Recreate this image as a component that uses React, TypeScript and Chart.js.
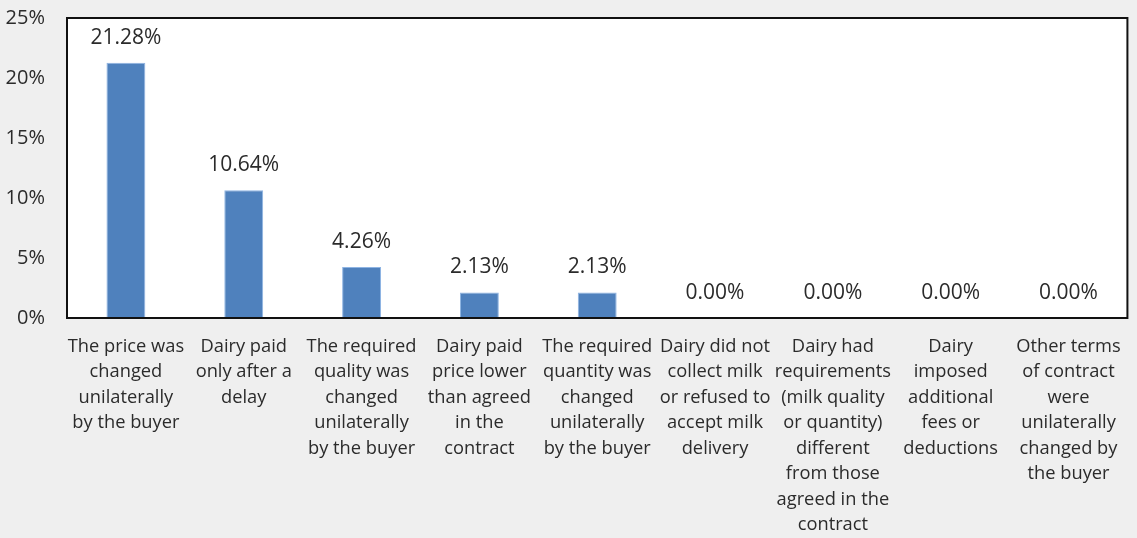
import React, { useEffect, useRef } from "react";
import { Chart, registerables } from "chart.js";

Chart.register(...registerables);

const categories: string[][] = [
  ["The price was", "changed", "unilaterally", "by the buyer"],
  ["Dairy paid", "only after a", "delay"],
  ["The required", "quality was", "changed", "unilaterally", "by the buyer"],
  ["Dairy paid", "price lower", "than agreed", "in the", "contract"],
  ["The required", "quantity was", "changed", "unilaterally", "by the buyer"],
  ["Dairy did not", "collect milk", "or refused to", "accept milk", "delivery"],
  ["Dairy had", "requirements", "(milk quality", "or quantity)", "different", "from those", "agreed in the", "contract"],
  ["Dairy", "imposed", "additional", "fees or", "deductions"],
  ["Other terms", "of contract", "were", "unilaterally", "changed by", "the buyer"],
];

const values: number[] = [21.28, 10.64, 4.26, 2.13, 2.13, 0, 0, 0, 0];

const yTicks: number[] = [0, 5, 10, 15, 20, 25];

const FONT = "'Open Sans', Lato, sans-serif";
const TEXT = "#2b2b2b";

const framePlugin = {
  id: "frame",
  beforeDraw(chart: any) {
    const { ctx, chartArea } = chart;
    ctx.save();
    ctx.fillStyle = "#ffffff";
    ctx.fillRect(chartArea.left, chartArea.top, chartArea.right - chartArea.left, chartArea.bottom - chartArea.top);
    ctx.restore();
  },
  afterDraw(chart: any) {
    const { ctx, chartArea } = chart;
    ctx.save();
    ctx.strokeStyle = "#111111";
    ctx.lineWidth = 2;
    ctx.strokeRect(chartArea.left, chartArea.top, chartArea.right - chartArea.left, chartArea.bottom - chartArea.top);
    ctx.restore();
  },
};

const labelPlugin = {
  id: "valueLabels",
  afterDatasetsDraw(chart: any) {
    const { ctx } = chart;
    const meta = chart.getDatasetMeta(0);
    ctx.save();
    ctx.fillStyle = TEXT;
    ctx.font = `21px ${FONT}`;
    ctx.textAlign = "center";
    ctx.textBaseline = "middle";
    meta.data.forEach((bar: any, i: number) => {
      const v = values[i];
      ctx.fillText(v.toFixed(2) + "%", bar.x, bar.y - 25);
    });
    ctx.restore();
  },
};

export default function App() {
  const ref = useRef<HTMLCanvasElement | null>(null);
  useEffect(() => {
    document.body.style.margin = "0";
    const chart = new Chart(ref.current as HTMLCanvasElement, {
      type: "bar",
      data: {
        labels: categories,
        datasets: [
          {
            data: values,
            backgroundColor: "#4F81BD",
            borderColor: "#8EB4E3",
            borderWidth: 1,
            barPercentage: 0.33,
            categoryPercentage: 1,
          },
        ],
      },
      options: {
        animation: false,
        responsive: false,
        maintainAspectRatio: false,
        layout: { padding: { top: 18, right: 6, left: 0, bottom: 0 } },
        plugins: { legend: { display: false }, tooltip: { enabled: false } },
        scales: {
          x: {
            grid: { display: false, drawTicks: false },
            border: { display: false },
            ticks: {
              autoSkip: false,
              maxRotation: 0,
              minRotation: 0,
              padding: 16,
              color: TEXT,
              font: { family: FONT, size: 18.3, lineHeight: 1.39 },
            },
            afterFit(scale: any) {
              scale.height = 220;
            },
          },
          y: {
            min: 0,
            max: 25,
            grid: { display: false, drawTicks: true, tickLength: 18, tickColor: "rgba(0,0,0,0)" },
            border: { display: false },
            afterBuildTicks(scale: any) {
              scale.ticks = yTicks.map((v) => ({ value: v }));
            },
            ticks: {
              padding: 4,
              color: TEXT,
              font: { family: FONT, size: 20 },
              callback: (v: any) => v + "%",
            },
            afterFit(scale: any) {
              scale.width = 67;
            },
          },
        },
      },
      plugins: [framePlugin, labelPlugin],
    });
    return () => chart.destroy();
  }, []);
  return (
    <div style={{ width: 1137, height: 538, background: "#efefef" }}>
      <canvas ref={ref} width={1137} height={538} />
    </div>
  );
}
